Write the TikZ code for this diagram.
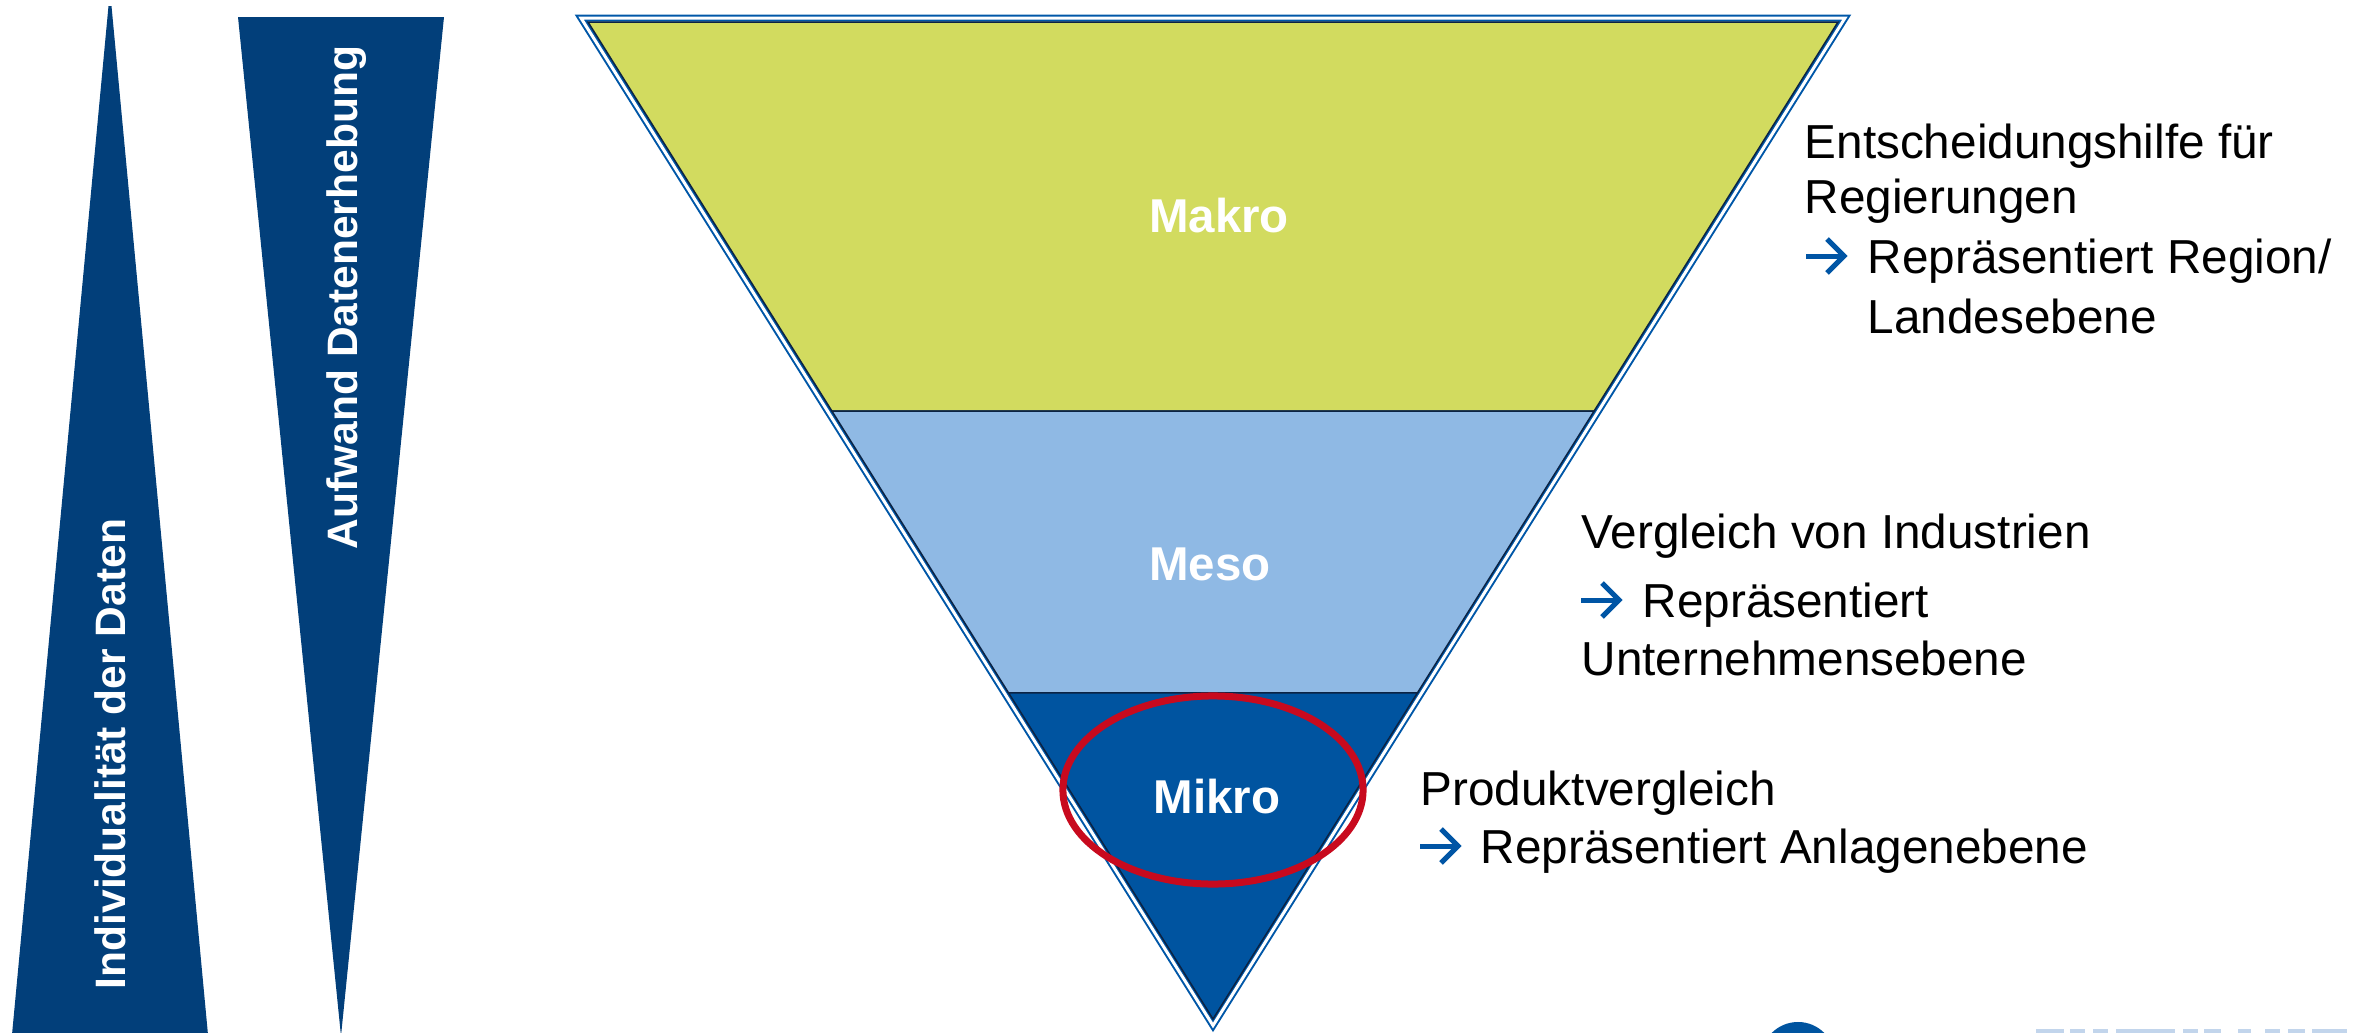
\documentclass[tikz,border=0pt]{standalone}
\usepackage{fontspec}
\setmainfont{Liberation Sans}
\usetikzlibrary{calc}
\definecolor{navy}{HTML}{023F7A}
\definecolor{frameblue}{HTML}{0057A8}
\definecolor{bandline}{HTML}{0B2344}
\definecolor{makro}{HTML}{D2DB5F}
\definecolor{meso}{HTML}{8FB9E4}
\definecolor{mikro}{HTML}{0054A0}
\definecolor{ringred}{HTML}{C80A1E}
\definecolor{arrowblue}{HTML}{0055A5}
\definecolor{logolight}{HTML}{C2D5EC}
\begin{document}
\begin{tikzpicture}[x=0.01cm,y=-0.01cm,
  sidetext/.style={inner sep=0pt, anchor=base west, font=\fontsize{13.56}{16}\selectfont, text=black},
  bandlabel/.style={inner sep=0pt, anchor=base, font=\fontsize{13.5}{16}\selectfont\bfseries, text=white},
  vertlabel/.style={inner sep=0pt, anchor=base west, rotate=90, font=\fontsize{12.1}{14}\selectfont\bfseries, text=white},
  wedge/.style={fill=navy, draw=none},
  band/.style={draw=bandline, line width=0.015cm, line join=miter},
  framestyle/.style={draw=frameblue, line width=0.02cm, double=white, double distance=0.03cm, line join=miter},
  arrowstroke/.style={draw=arrowblue, line width=0.05cm, line join=miter, line cap=butt}]
\useasboundingbox (0,0) rectangle (2359,1033);
\clip (0,0) rectangle (2359,1033);

% left wedges
\fill[wedge] (108.5,6) -- (111.5,6) -- (208.5,1040) -- (11.5,1040) -- cycle;
\fill[wedge] (238,17) -- (444,17) -- (341,1036) -- cycle;
\node[vertlabel] (indiv) at (126,990) {Individualität der Daten};
\node[vertlabel] (aufw) at (357,550) {Aufwand Datenerhebung};

% frame of the funnel
\coordinate (FL) at (581,18);
\coordinate (FR) at (1845,18);
\coordinate (FA) at (1213,1025.5);
\draw[framestyle] (FL) -- (FR) -- (FA) -- cycle;

% bands
\coordinate (TL) at (588,22);
\coordinate (TR) at (1838,22);
\coordinate (A) at (1213,1019);
\coordinate (L1) at ($(TL)!0.3902!(A)$);
\coordinate (R1) at ($(TR)!0.3902!(A)$);
\coordinate (L2) at ($(TL)!0.6730!(A)$);
\coordinate (R2) at ($(TR)!0.6730!(A)$);
\draw[band, fill=makro] (TL) -- (TR) -- (R1) -- (L1) -- cycle;
\draw[band, fill=meso] (L1) -- (R1) -- (R2) -- (L2) -- cycle;
\draw[band, fill=mikro] (L2) -- (R2) -- (A) -- cycle;

% band labels
\node[bandlabel] (makrolab) at (1219,232) {Makro};
\node[bandlabel] (mesolab) at (1210,580) {Meso};
\node[bandlabel] (mikrolab) at (1217,813) {Mikro};

% red ring
\draw[draw=ringred, line width=0.07cm] (1213,790) ellipse [x radius=1.50cm, y radius=0.94cm];

% right texts
\node[sidetext] (t1a) at (1804,158) {Entscheidungshilfe für};
\node[sidetext] (t1b) at (1804,213) {Regierungen};
\node[sidetext] (t1c) at (1806,273) {\hspace{0.61cm}Repräsentiert Region/};
\node[sidetext] (t1d) at (1867,333) {Landesebene};

\node[sidetext] (t2a) at (1581,548) {Vergleich von Industrien};
\node[sidetext] (t2b) at (1581,617) {\hspace{0.61cm}Repräsentiert};
\node[sidetext] (t2c) at (1581,675) {Unternehmensebene};

\node[sidetext] (t3a) at (1420,805) {Produktvergleich};
\node[sidetext] (t3b) at (1420,863) {\hspace{0.60cm}Repräsentiert Anlagenebene};

% blue arrows in front of "Repräsentiert"
\foreach \n in {t1c,t2b,t3b} {
  \draw[arrowstroke] ($(\n.base west)+(0,-17)$) -- ($(\n.base west)+(37,-17)$);
  \draw[arrowstroke] ($(\n.base west)+(21,-34)$) -- ($(\n.base west)+(38,-17)$) -- ($(\n.base west)+(21,0)$);
}

% cut-off logo at the bottom edge
\fill[mikro] (1798,1059) circle [radius=0.37cm];
\foreach \a/\b in {2036/2064,2070/2085,2093/2108,2116/2175,2183/2198,2204/2221,2238/2251,2265/2280,2288/2305,2312/2347}
  \fill[logolight] (\a,1029) rectangle (\b,1034);
\end{tikzpicture}
\end{document}
